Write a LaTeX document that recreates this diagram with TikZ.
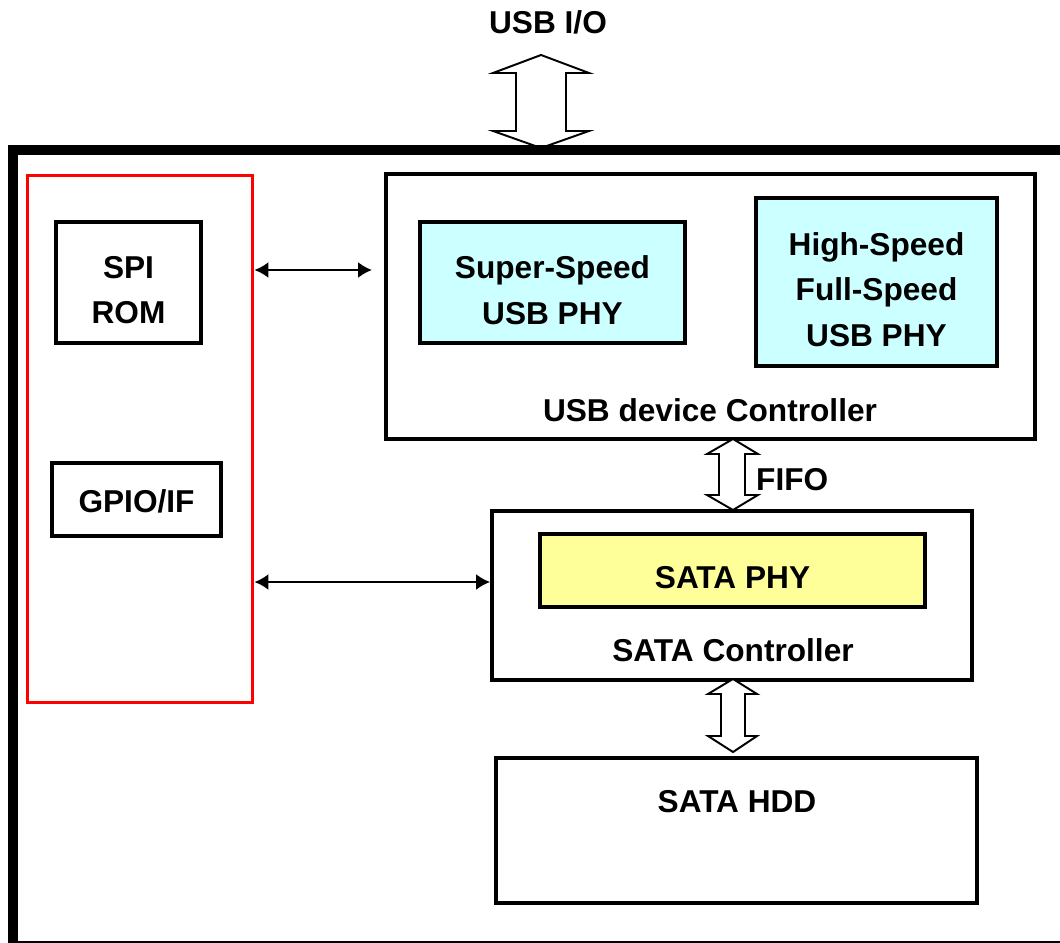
\documentclass[tikz,border=0pt]{standalone}
\usepackage{fontspec}
\setmainfont{Liberation Sans}
\usetikzlibrary{arrows.meta}

\definecolor{phycyan}{HTML}{CCFFFF}
\definecolor{phyyellow}{HTML}{FFFF99}

\tikzset{
	box/.style = {draw, line width = 2.3pt, inner sep = 0pt},
	cpubox/.style = {draw = red, line width = 1.7pt, inner sep = 0pt},
	blockarrow/.style = {draw, fill = white, line width = 1.1pt, line join = miter},
}

\begin{document}
\begin{tikzpicture}[x = 0.02cm, y = -0.02cm, > = {Latex[length = 2.8mm, width = 3.2mm]},
	font = \bfseries\fontsize{18}{26}\selectfont, align = center]

	\useasboundingbox (0, 0) rectangle (1060, 942);

	% USB I/O into the board

	\node (usbio) at (548, 22) {USB I/O};
	\draw [blockarrow] (541, 55) -- (589, 73) -- (566, 73) -- (566, 131) -- (589, 131)
		-- (541, 148) -- (493, 131) -- (516, 131) -- (516, 73) -- (493, 73) -- cycle;

	% Board outline

	\draw [line width = 5.7pt] (13, 150) rectangle (1080, 946);

	% CPU side: red block with SPI ROM and GPIO

	\node (cpu) [cpubox, minimum width = 4.52cm, minimum height = 10.56cm] at (140, 439) {};
	\node (rom) [box, minimum width = 2.9cm, minimum height = 2.42cm] at (128.5, 282.5) {};
	\node (romtext) at (128.5, 290) {SPI\\ROM};
	\node (gpio) [box, minimum width = 3.38cm, minimum height = 1.46cm] at (136.5, 499.5) {};
	\node (gpiotext) at (136.5, 501.5) {GPIO/IF};

	% USB device controller with its two PHYs

	\node (usb) [box, minimum width = 12.98cm, minimum height = 5.3cm] at (710.5, 306.5) {};
	\node (usblabel) at (710, 410) {USB device Controller};
	\node (ssphy) [box, fill = phycyan, minimum width = 5.3cm, minimum height = 2.42cm]
		at (552.5, 282.5) {};
	\node (ssphytext) at (552.5, 290) {Super-Speed\\USB PHY};
	\node (hsphy) [box, fill = phycyan, minimum width = 4.82cm, minimum height = 3.36cm]
		at (876.5, 282) {};
	\node (hsphytext) at (876.5, 289.5) {High-Speed\\Full-Speed\\USB PHY};

	% SATA controller and disk

	\node (sata) [box, minimum width = 9.6cm, minimum height = 3.38cm] at (732, 595.5) {};
	\node (satalabel) at (733, 650) {SATA Controller};
	\node (sataphy) [box, fill = phyyellow, minimum width = 7.7cm, minimum height = 1.46cm]
		at (732.5, 570.5) {};
	\node (sataphytext) at (732.5, 578) {SATA PHY};

	\node (hdd) [box, minimum width = 9.62cm, minimum height = 2.9cm] at (736.5, 830.5) {};
	\node (hddlabel) at (737, 802) {SATA HDD};

	% FIFO and disk links

	\draw [blockarrow] (733, 439) -- (758, 454) -- (745, 454) -- (745, 495) -- (758, 495)
		-- (733, 510) -- (707, 495) -- (719, 495) -- (719, 454) -- (707, 454) -- cycle;
	\node (fifo) [anchor = west] at (750, 480) {FIFO};

	\draw [blockarrow] (733, 679) -- (757, 694) -- (745, 694) -- (745, 736) -- (757, 736)
		-- (733, 752) -- (708, 736) -- (721, 736) -- (721, 694) -- (708, 694) -- cycle;

	% Control lines from the CPU

	\coordinate (usbin) at (372, 270);
	\coordinate (satain) at (492, 582);

	\begin{scope}[<->, line width = 1.1pt]

		\draw (cpu.east |- usbin) -- (usbin);
		\draw (cpu.east |- satain) -- (sata.west |- satain);

	\end{scope}

\end{tikzpicture}
\end{document}
